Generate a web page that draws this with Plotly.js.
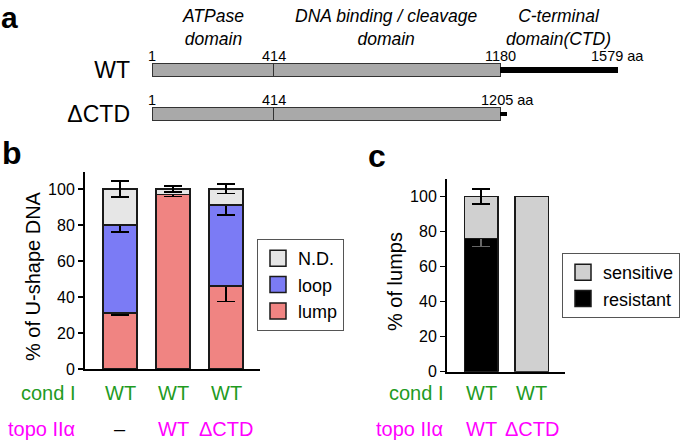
<!DOCTYPE html>
<html><head><meta charset="utf-8">
<script src="https://cdn.plot.ly/plotly-3.0.1.min.js"></script>
<style>html,body{margin:0;padding:0;background:#fff}</style>
</head><body><div id="chart" style="width:685px;height:442px"></div>
<script>
// ---------- panel a: domain map (aa positions) ----------
const aRows = ['WT', 'ΔCTD'];
const aSegRow = ['WT', 'WT', 'ΔCTD', 'ΔCTD'];
const aSegStart = [1, 414, 1, 414];
const aSegEnd = [414, 1180, 414, 1180];
const aCtdRow = ['WT', 'ΔCTD'];
const aCtdStart = [1180, 1180];
const aCtdEnd = [1579, 1205];
const aMarkRow = ['WT', 'WT', 'WT', 'WT', 'ΔCTD', 'ΔCTD', 'ΔCTD'];
const aMarkPos = [1, 414, 1180, 1579, 1, 414, 1205];
const aMarkText = ['1', '414', '1180', '1579 aa', '1', '414', '1205 aa'];
const aDomStart = [1, 414, 1180];
const aDomEnd = [414, 1180, 1579];
const aDomName = ['ATPase<br>domain', 'DNA binding / cleavage<br>domain', 'C-terminal<br>domain(CTD)'];

// ---------- panel b: % of U-shape DNA ----------
const bCats = ['–', 'WT', 'ΔCTD'];      // topo IIα
const bCond = ['WT', 'WT', 'WT'];       // cond I
const bLump = [31, 97, 46];
const bLumpErr = [1, 1.2, 8.4];
const bLoop = [49, 0, 45];
const bLoopErr = [4, NaN, 5.5];
const bND = [20, 3, 9];
const bNDErr = [4.5, 1.6, 2.6];
const yTicks = [0, 20, 40, 60, 80, 100];

// ---------- panel c: % of lumps ----------
const cCats = ['WT', 'ΔCTD'];           // topo IIα
const cCond = ['WT', 'WT'];             // cond I
const cRes = [76, 0];
const cResErr = [4.6, NaN];
const cSens = [24, 100];
const cSensErr = [4.3, NaN];

// ---------- styles ----------
const FONT = 'Liberation Sans, Arial, sans-serif';
const GREEN = '#1f9b1f', MAGENTA = '#ff00ff';
const C_ND = '#e6e6e6', C_LOOP = '#7b7bf5', C_LUMP = '#f08482';
const C_SENS = '#d0d0d0', C_RES = '#000000';
const OUT = {color: '#1a1a1a', width: 1.5};
const err = (arr, col) => ({type: 'data', array: arr, visible: true, color: col || '#000', thickness: 1.5, width: 9});

const traces = [];
// panel a
traces.push({type: 'bar', orientation: 'h', xaxis: 'x3', yaxis: 'y3', y: aSegRow,
  base: aSegStart, x: aSegStart.map((s, i) => aSegEnd[i] - s), width: 0.30,
  marker: {color: '#a9a9a9', line: {color: '#333', width: 1}}, showlegend: false, hoverinfo: 'skip'});
traces.push({type: 'bar', orientation: 'h', xaxis: 'x3', yaxis: 'y3', y: aCtdRow,
  base: aCtdStart, x: aCtdStart.map((s, i) => aCtdEnd[i] - s), width: [0.115, 0.095],
  marker: {color: '#000', line: {width: 0}}, showlegend: false, hoverinfo: 'skip'});
// panel b (stacked)
traces.push({type: 'bar', xaxis: 'x', yaxis: 'y', x: bCats, y: bLump, width: 0.64,
  marker: {color: C_LUMP, line: OUT}, error_y: err(bLumpErr), showlegend: false});
traces.push({type: 'bar', xaxis: 'x', yaxis: 'y', x: bCats, y: bLoop, width: 0.64,
  marker: {color: C_LOOP, line: OUT}, error_y: err(bLoopErr), showlegend: false});
traces.push({type: 'bar', xaxis: 'x', yaxis: 'y', x: bCats, y: bND, width: 0.64,
  marker: {color: C_ND, line: OUT}, error_y: err(bNDErr), showlegend: false});
// panel c (stacked)
traces.push({type: 'bar', xaxis: 'x2', yaxis: 'y2', x: cCats, y: cRes, width: 0.66,
  marker: {color: C_RES, line: OUT}, error_y: err(cResErr, '#666'), showlegend: false});
traces.push({type: 'bar', xaxis: 'x2', yaxis: 'y2', x: cCats, y: cSens, width: 0.66,
  marker: {color: C_SENS, line: OUT}, error_y: err(cSensErr), showlegend: false});
// legend entries
const leg = (name, col, lg, xa, ya) => ({type: 'scatter', mode: 'markers', x: [null], y: [null],
  xaxis: xa, yaxis: ya, name: name, legend: lg,
  marker: {symbol: 'square', size: 16, color: col, line: {color: '#1a1a1a', width: 1.5}}});
traces.push(leg('N.D.', C_ND, 'legend', 'x', 'y'));
traces.push(leg('loop', C_LOOP, 'legend', 'x', 'y'));
traces.push(leg('lump', C_LUMP, 'legend', 'x', 'y'));
traces.push(leg('sensitive', C_SENS, 'legend2', 'x2', 'y2'));
traces.push(leg('resistant', C_RES, 'legend2', 'x2', 'y2'));

// ---------- annotations ----------
const ann = [];
const px = v => v / 685, py = v => (442 - v) / 442;
// panel letters
ann.push({text: 'a', xref: 'paper', yref: 'paper', x: px(0), y: 1, xanchor: 'left', yanchor: 'top', borderpad: 0, showarrow: false, font: {size: 30, weight: 'bold'}});
ann.push({text: 'b', xref: 'paper', yref: 'paper', x: px(0), y: py(153), xanchor: 'left', yanchor: 'middle', showarrow: false, font: {size: 32, weight: 'bold'}});
ann.push({text: 'c', xref: 'paper', yref: 'paper', x: px(366), y: py(156), xanchor: 'left', yanchor: 'middle', showarrow: false, font: {size: 32, weight: 'bold'}});
// panel a: domain headers
aDomName.forEach((t, i) => {
  const mid = (aDomStart[i] + aDomEnd[i]) / 2;
  ann.push({text: t, xref: 'x3', yref: 'paper', x: mid, y: py(27), xanchor: 'center', yanchor: 'middle', showarrow: false, font: {size: 17.5, style: 'italic'}});
});
// panel a: residue marks
aMarkPos.forEach((p, i) => {
  ann.push({text: aMarkText[i], xref: 'x3', yref: 'y3', x: p, y: aMarkRow[i], yshift: 14, xanchor: 'center', yanchor: 'middle', showarrow: false, font: {size: 14.5}});
});
// panel b & c: axis titles
ann.push({text: '% of U-shape DNA', xref: 'paper', yref: 'paper', x: px(33), y: py(276), textangle: -90, xanchor: 'center', yanchor: 'middle', showarrow: false, font: {size: 20}});
ann.push({text: '% of lumps', xref: 'paper', yref: 'paper', x: px(395), y: py(282), textangle: -90, xanchor: 'center', yanchor: 'middle', showarrow: false, font: {size: 20}});
// row labels
const rowY1 = py(393), rowY2 = py(429);
ann.push({text: 'cond I', xref: 'paper', yref: 'paper', x: px(77), y: rowY1, xanchor: 'right', yanchor: 'middle', showarrow: false, font: {size: 20, color: GREEN}});
ann.push({text: 'topo IIα', xref: 'paper', yref: 'paper', x: px(77), y: rowY2, xanchor: 'right', yanchor: 'middle', showarrow: false, font: {size: 20, color: MAGENTA}});
ann.push({text: 'cond I', xref: 'paper', yref: 'paper', x: px(445), y: rowY1, xanchor: 'right', yanchor: 'middle', showarrow: false, font: {size: 20, color: GREEN}});
ann.push({text: 'topo IIα', xref: 'paper', yref: 'paper', x: px(445), y: rowY2, xanchor: 'right', yanchor: 'middle', showarrow: false, font: {size: 20, color: MAGENTA}});
bCats.forEach((c, i) => {
  ann.push({text: bCond[i], xref: 'x', yref: 'paper', x: c, y: rowY1, xanchor: 'center', yanchor: 'middle', showarrow: false, font: {size: 20, color: GREEN}});
  ann.push({text: c, xref: 'x', yref: 'paper', x: c, y: rowY2, xanchor: 'center', yanchor: 'middle', showarrow: false, font: {size: 20, color: c === '–' ? '#000' : MAGENTA}});
});
cCats.forEach((c, i) => {
  ann.push({text: cCond[i], xref: 'x2', yref: 'paper', x: c, y: rowY1, xanchor: 'center', yanchor: 'middle', showarrow: false, font: {size: 20, color: GREEN}});
  ann.push({text: c, xref: 'x2', yref: 'paper', x: c, y: rowY2, xanchor: 'center', yanchor: 'middle', showarrow: false, font: {size: 20, color: MAGENTA}});
});

const xCat = (dom, cats, range, anchor) => ({domain: dom, type: 'category', categoryorder: 'array', categoryarray: cats,
  range: range, anchor: anchor, showline: true, linewidth: 2, linecolor: '#000', ticks: '', showticklabels: false,
  showgrid: false, zeroline: false, fixedrange: true});
const yNum = (dom, range, anchor) => ({domain: dom, range: range, anchor: anchor, tickvals: yTicks, ticks: 'outside',
  ticklen: 5, tickwidth: 1.5, tickcolor: '#000', showline: true, linewidth: 2, linecolor: '#000',
  showgrid: false, zeroline: false, tickfont: {size: 16}, fixedrange: true});

const layout = {
  width: 685, height: 442, margin: {l: 0, r: 0, t: 0, b: 0, pad: 0},
  paper_bgcolor: '#fff', plot_bgcolor: 'rgba(0,0,0,0)',
  font: {family: FONT, size: 16, color: '#000'},
  barmode: 'stack', showlegend: true,
  xaxis: xCat([85 / 685, 260 / 685], bCats, [-0.66, 2.64], 'y'),
  yaxis: yNum([py(369), py(172)], [0, 109.4], 'x'),
  xaxis2: xCat([447 / 685, 565 / 685], cCats, [-0.67, 1.65], 'y2'),
  yaxis2: yNum([py(371.7), py(179)], [0, 110], 'x2'),
  xaxis3: {domain: [140 / 685, 1], range: [-39.65, 1806.7], anchor: 'y3', visible: false, fixedrange: true},
  yaxis3: {domain: [py(130), 1], type: 'category', categoryorder: 'array', categoryarray: aRows,
    range: [1.364, -1.591], anchor: 'x3', showline: false, showgrid: false, zeroline: false, ticks: '',
    tickfont: {size: 23}, ticklabelstandoff: 9, fixedrange: true},
  legend: {x: 257 / 685, y: py(239), xanchor: 'left', yanchor: 'top', bordercolor: '#555', borderwidth: 1,
    bgcolor: '#fff', font: {size: 18}, traceorder: 'normal', itemclick: false, itemdoubleclick: false},
  legend2: {x: 562 / 685, y: py(253), xanchor: 'left', yanchor: 'top', bordercolor: '#555', borderwidth: 1,
    bgcolor: '#fff', font: {size: 18}, traceorder: 'normal', itemclick: false, itemdoubleclick: false},
  annotations: ann
};

Plotly.newPlot('chart', traces, layout, {staticPlot: true, displayModeBar: false});
</script>
</body></html>
